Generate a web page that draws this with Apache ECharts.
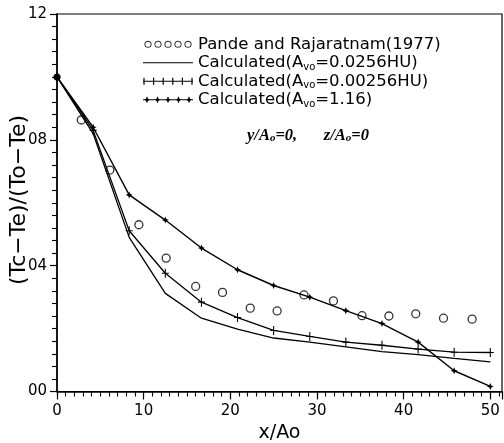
<!DOCTYPE html>
<html><head><meta charset="utf-8">
<script src="https://cdn.jsdelivr.net/npm/echarts@6/dist/echarts.min.js"></script>
<style>html,body{margin:0;padding:0;background:#fff}#c{width:504px;height:443px}</style>
</head><body><div id="c"></div>
<script>
// ---- data ----
const xCalc = [0, 4.17, 8.33, 12.5, 16.67, 20.83, 25, 29.17, 33.33, 37.5, 41.67, 45.83, 50];
const calcLow = [1.0, 0.82, 0.49, 0.312, 0.233, 0.198, 0.17, 0.157, 0.142, 0.127, 0.117, 0.105, 0.094];
const calcPlus = [1.0, 0.83, 0.511, 0.376, 0.284, 0.235, 0.194, 0.175, 0.157, 0.147, 0.135, 0.125, 0.124];
const calcStar = [1.0, 0.84, 0.625, 0.545, 0.456, 0.387, 0.337, 0.30, 0.257, 0.216, 0.157, 0.066, 0.016];
const expX = [2.8, 6.1, 9.45, 12.6, 16.0, 19.1, 22.3, 25.4, 28.5, 31.9, 35.2, 38.3, 41.4, 44.6, 47.9];
const expY = [0.863, 0.704, 0.53, 0.424, 0.334, 0.315, 0.265, 0.256, 0.307, 0.288, 0.241, 0.240, 0.247, 0.233, 0.23];
const xTickLabels = ['0', '10', '20', '30', '40', '50'];
const yTickLabels = ['00', '04', '08', '12'];
const seriesNames = ['Pande and Rajaratnam(1977)', 'Calculated(Avo=0.0256HU)', 'Calculated(Avo=0.00256HU)', 'Calculated(Avo=1.16)'];
const yAxisTitle = '(Tc\u2212Te)/(To\u2212Te)';
const xAxisTitle = 'x/Ao';

// ---- icon paths (style only) ----
const anchors = 'M0,0 L0.01,0 L0,0.01 Z M50,10 L49.99,10 L50,9.99 Z ';
function ring(c) {
  return `M${c-3.6},5 A3.6,3.6 0 1,1 ${c+3.6},5 A3.6,3.6 0 1,1 ${c-3.6},5 Z M${c-2.6},5 A2.6,2.6 0 1,0 ${c+2.6},5 A2.6,2.6 0 1,0 ${c-2.6},5 Z `;
}
function star(c, r) {
  const k = r * 0.3;
  return `M${c},${5-r} L${c+k},${5-k} L${c+r},5 L${c+k},${5+k} L${c},${5+r} L${c-k},${5+k} L${c-r},5 L${c-k},${5-k} Z `;
}
const hline = 'M0,4.4 L50,4.4 L50,5.6 L0,5.6 Z ';
let iconRings = anchors; [5, 15, 25, 35, 45].forEach(c => iconRings += ring(c));
const iconLine = anchors + 'M0,4.5 L50,4.5 L50,5.5 L0,5.5 Z';
let iconPlus = anchors + hline; [1, 10.6, 20.2, 29.8, 39.4, 49].forEach(x => iconPlus += `M${x-0.6},1.5 L${x+0.6},1.5 L${x+0.6},8.5 L${x-0.6},8.5 Z `);
let iconStar = anchors + hline; [4, 14.5, 25, 35.5, 46].forEach(c => iconStar += star(c, 3.6));

const plusSymbol = 'path://M-0.6,-5 L0.6,-5 L0.6,-0.6 L4,-0.6 L4,0.6 L0.6,0.6 L0.6,5 L-0.6,5 L-0.6,0.6 L-4,0.6 L-4,-0.6 L-0.6,-0.6 Z';
const starSymbol = 'path://M0,-5 L1.5,-1.5 L5,0 L1.5,1.5 L0,5 L-1.5,1.5 L-5,0 L-1.5,-1.5 Z';

const FONT = 'DejaVu Sans';
const xMax = 51.35;

function pairs(xs, ys) { return xs.map((x, i) => [x, ys[i]]); }

const starData = pairs(xCalc, calcStar).map((p, i) => i === 0 ? { value: p, symbol: 'circle', symbolSize: 7 } : p);

const chart = echarts.init(document.getElementById('c'), null, { renderer: 'canvas' });
chart.setOption({
  animation: false,
  backgroundColor: '#fff',
  grid: { left: 57, right: 2, top: 14, bottom: 51.5, outerBoundsMode: 'none', containLabel: false, show: true, borderColor: '#000', borderWidth: 1.2, backgroundColor: 'transparent' },
  legend: {
    orient: 'vertical', left: 138, top: 30, itemWidth: 50, itemHeight: 10, itemGap: 0,
    symbolKeepAspect: true, selectedMode: false,
    data: [
      { name: seriesNames[0], icon: 'path://' + iconRings, itemStyle: { color: '#000', borderWidth: 0 } },
      { name: seriesNames[1], icon: 'path://' + iconLine, itemStyle: { color: '#000', borderWidth: 0 } },
      { name: seriesNames[2], icon: 'path://' + iconPlus, itemStyle: { color: '#000', borderWidth: 0 } },
      { name: seriesNames[3], icon: 'path://' + iconStar, itemStyle: { color: '#000', borderWidth: 0 } }
    ],
    formatter: n => n.replace('Avo', 'A{s|vo}'),
    textStyle: {
      fontFamily: FONT, fontSize: 16.5, color: '#000', lineHeight: 18.5, padding: [0, 0, 0, 0],
      rich: { s: { fontFamily: FONT, fontSize: 10, color: '#000', verticalAlign: 'bottom', lineHeight: 18.5 } }
    }
  },
  xAxis: [{
    type: 'value', min: 0, max: xMax, interval: 10,
    name: xAxisTitle, nameLocation: 'middle', nameGap: 27,
    nameTextStyle: { fontFamily: FONT, fontSize: 19, color: '#000' },
    axisLine: { show: true, lineStyle: { color: '#000', width: 1.5 } },
    axisTick: { show: true, length: 8, lineStyle: { color: '#000', width: 1.2 } },
    axisLabel: {
      margin: 12, fontFamily: FONT, fontSize: 15, color: '#000',
      formatter: v => { const i = Math.round(v / 10); return Math.abs(v - i * 10) < 1e-6 && xTickLabels[i] !== undefined ? xTickLabels[i] : ''; }
    },
    splitLine: { show: false }
  }, {
    type: 'value', min: 0, max: xMax, interval: 1, position: 'bottom',
    axisLine: { show: false }, axisLabel: { show: false }, splitLine: { show: false },
    axisTick: { show: true, length: 5, lineStyle: { color: '#000', width: 1.1 } }
  }],
  yAxis: {
    type: 'value', min: 0, max: 1.2, interval: 0.4,
    axisLine: { show: true, lineStyle: { color: '#000', width: 1.5 } },
    axisTick: { show: true, length: 7, lineStyle: { color: '#000', width: 1.2 } },
    minorTick: { show: true, splitNumber: 10, length: 5, lineStyle: { color: '#000', width: 1.1 } },
    axisLabel: {
      margin: 10, fontFamily: FONT, fontSize: 15, color: '#000',
      formatter: v => { const i = Math.round(v / 0.4); return yTickLabels[i] !== undefined ? yTickLabels[i] : ''; }
    },
    splitLine: { show: false }, minorSplitLine: { show: false }
  },
  graphic: [{
    type: 'text', x: 19, y: 200, rotation: Math.PI / 2, silent: true,
    style: { text: yAxisTitle, fontFamily: FONT, fontSize: 22, fill: '#000', align: 'center', verticalAlign: 'middle' }
  }, {
    type: 'text', left: 247, top: 127, silent: true,
    style: {
      text: '{i|y/A}{s|o}{i|=0,}        {i|z/A}{s|o}{i|=0}',
      rich: {
        i: { fontFamily: 'Liberation Serif', fontStyle: 'italic', fontWeight: 'bold', fontSize: 16.5, fill: '#000', lineHeight: 20, verticalAlign: 'bottom' },
        s: { fontFamily: 'Liberation Serif', fontStyle: 'italic', fontWeight: 'bold', fontSize: 11, fill: '#000', lineHeight: 20, verticalAlign: 'bottom' }
      }
    }
  }],
  series: [
    {
      name: seriesNames[0], type: 'scatter', xAxisIndex: 0, z: 5,
      data: pairs(expX, expY), symbol: 'circle', symbolSize: 8,
      itemStyle: { color: 'rgba(255,255,255,0)', borderColor: '#000', borderWidth: 1.3 }
    },
    {
      name: seriesNames[1], type: 'line', xAxisIndex: 0, data: pairs(xCalc, calcLow),
      symbol: 'none', showSymbol: false,
      lineStyle: { color: '#000', width: 1.3 }, itemStyle: { color: '#000', borderWidth: 0 }
    },
    {
      name: seriesNames[2], type: 'line', xAxisIndex: 0, data: pairs(xCalc, calcPlus),
      symbol: plusSymbol, symbolSize: [7, 9], showAllSymbol: true,
      lineStyle: { color: '#000', width: 1.3 }, itemStyle: { color: '#000', borderWidth: 0 }
    },
    {
      name: seriesNames[3], type: 'line', xAxisIndex: 0, data: starData,
      symbol: starSymbol, symbolSize: 7, showAllSymbol: true,
      lineStyle: { color: '#000', width: 1.4 }, itemStyle: { color: '#000', borderWidth: 0 }
    }
  ]
});
</script></body></html>
